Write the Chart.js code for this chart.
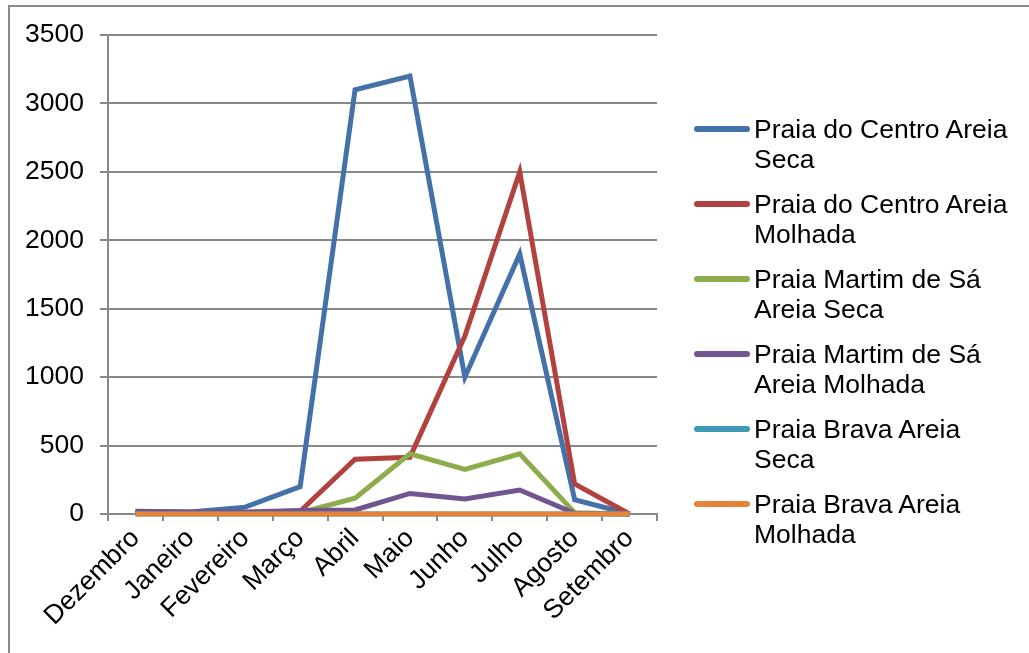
<!DOCTYPE html>
<html>
<head>
<meta charset="utf-8">
<script src="https://cdn.jsdelivr.net/npm/chart.js@4"></script>
<style>
  html, body { margin: 0; padding: 0; background: #fff; }
  #wrap { position: relative; width: 1029px; height: 653px; overflow: hidden; }
  #frame { position: absolute; left: 8px; top: 5px; width: 1100px; height: 700px;
           border-left: 2px solid #8a8a8a; border-top: 2px solid #8a8a8a; }
  #legend { position: absolute; left: 694px; top: 114px; font-family: "Liberation Sans", Arial, sans-serif;
            font-size: 26.5px; line-height: 30px; color: #000; }
  .item { position: relative; height: 75px; }
  .swatch { position: absolute; left: 0; top: 12px; width: 56px; height: 6px; border-radius: 3px; }
  .text { position: absolute; left: 60px; top: 0; white-space: nowrap; }
</style>
</head>
<body>
<div id="wrap">
  <div id="frame"></div>
  <canvas id="myChart" width="1029" height="653" style="position:absolute;left:0;top:0"></canvas>
  <div id="legend"></div>
</div>
<script>
var months = ["Dezembro", "Janeiro", "Fevereiro", "Março", "Abril", "Maio", "Junho", "Julho", "Agosto", "Setembro"];
var seriesNames = [
    ["Praia do Centro Areia", "Seca"],
    ["Praia do Centro Areia", "Molhada"],
    ["Praia Martim de Sá", "Areia Seca"],
    ["Praia Martim de Sá", "Areia Molhada"],
    ["Praia Brava Areia", "Seca"],
    ["Praia Brava Areia", "Molhada"]
];
var centroSeca = [15, 15, 50, 200, 3100, 3200, 1000, 1900, 105, 0];
var centroMolhada = [10, 10, 10, 20, 400, 415, 1300, 2500, 220, 0];
var martimSeca = [5, 5, 5, 10, 115, 440, 325, 440, 10, 0];
var martimMolhada = [20, 15, 15, 25, 30, 150, 110, 175, 5, 0];
var bravaSeca = [0, 0, 0, 0, 0, 0, 0, 0, 0, 0];
var bravaMolhada = [0, 0, 0, 0, 0, 0, 0, 0, 0, 0];
var colors = ["#4471AA", "#B2423F", "#8DAC4B", "#70558F", "#3E9BB5", "#E4843A"];

var allSeries = [centroSeca, centroMolhada, martimSeca, martimMolhada, bravaSeca, bravaMolhada];
var datasets = allSeries.map(function (values, i) {
    return {
        label: seriesNames[i].join(" "),
        data: values,
        borderColor: colors[i],
        backgroundColor: colors[i],
        borderWidth: 5,
        pointRadius: 0,
        tension: 0,
        clip: false,
        order: 6 - i,
    };
});

var gray = "#888888";
Chart.defaults.font.family = "'Liberation Sans', Arial, sans-serif";
Chart.defaults.font.size = 26;
Chart.defaults.color = "#000";

var config = {
    type: "line",
    data: { labels: months, datasets: datasets },
    options: {
        responsive: false,
        animation: false,
        layout: { padding: { left: 0, right: 372, top: 35, bottom: 0 } },
        plugins: { legend: { display: false }, tooltip: { enabled: false } },
        scales: {
            x: {
                offset: true,
                grid: { offset: true, drawOnChartArea: false, color: gray, lineWidth: 2, tickLength: 7 },
                border: { color: gray, width: 2 },
                ticks: { minRotation: 45, maxRotation: 45, padding: 2, font: { size: 26.5 } },
                afterFit: function (scale) { scale.height = 139; },
            },
            y: {
                min: 0,
                max: 3500,
                grid: { color: gray, lineWidth: 2, tickLength: 8 },
                border: { color: gray, width: 2 },
                ticks: {
                    stepSize: 500,
                    padding: 16,
                    font: { size: 26.5 },
                    callback: function (value) { return String(value); },
                },
                afterFit: function (scale) { scale.width = 108; },
            },
        },
    },
};

var ctx = document.getElementById("myChart");
window.myLine = new Chart(ctx, config);

var legend = document.getElementById("legend");
seriesNames.forEach(function (name, i) {
    var item = document.createElement("div");
    item.className = "item";
    item.innerHTML = '<div class="swatch" style="background:' + colors[i] + '"></div>' +
        '<div class="text">' + name[0] + "<br>" + name[1] + "</div>";
    legend.appendChild(item);
});
</script>
</body>
</html>
